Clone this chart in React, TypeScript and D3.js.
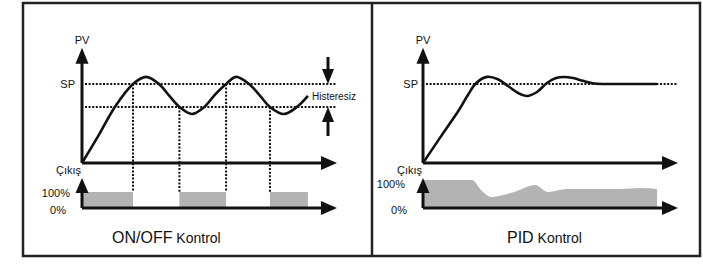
import React from 'react';
import * as d3 from 'd3';

// ON/OFF panel: process value over time (t in % of time axis, pv in % of set point)
const onoffT = [0, 6.5, 12.9, 20, 25.1, 30.2, 34, 38.2, 43.1, 48, 52, 56.5, 60.4, 65.5, 69.6, 73.7, 79.2, 84.3, 88.6];
const onoffPV = [0, 35, 71, 100, 109, 100, 86, 71, 62, 71, 86, 100, 109, 100, 86, 71, 62, 71, 85];
// relay switching instants and output state (100% on / 0% off)
const onoffSwitchT = [0, 20, 38.2, 56.5, 73.7, 88.6];
const onoffSwitchOut = [100, 0, 100, 0, 100, 0];
const onoffSwitchFrom = [null, 100, 71, 100, 71, null];

// PID panel
const pidT = [0, 7.1, 14.1, 17.6, 20.8, 25.1, 29.4, 33.3, 37.3, 40.8, 44.7, 48.6, 52.2, 55.3, 58.8, 62.7, 66.5, 70.5, 76, 91.8];
const pidPV = [0, 34, 67, 86, 101, 109, 106, 97.5, 88.6, 84.8, 89.9, 101.3, 107.6, 108.9, 107.6, 104, 101, 100, 100, 100];
const pidOutT = [0, 19.2, 23.1, 27.1, 31.4, 36.9, 43.9, 49, 56.5, 77.3, 85.1, 91.8];
const pidOut = [100, 100, 61, 39, 46, 61, 82, 57, 68, 68, 71, 68];

const SP = 100;
const HYST_LOW = 71;

const FONT = '"Liberation Sans", Arial, Helvetica, sans-serif';
const INK = '#111';

const panels = [
  { ox: 82, title: 'ON/OFF', out100: 192, lbl100dx: 12, lbl100y: 197 },
  { ox: 423, title: 'PID', out100: 180, lbl100dx: 18, lbl100y: 188 },
];

const oy = 163;
const outY = 208;

const arrowUp = (x: number, tip: number, w = 13, h = 16) =>
  `M${x},${tip}L${x - w / 2},${tip + h}L${x + w / 2},${tip + h}Z`;
const arrowDown = (x: number, tip: number, w = 13, h = 16) =>
  `M${x},${tip}L${x - w / 2},${tip - h}L${x + w / 2},${tip - h}Z`;
const arrowRight = (tip: number, y: number, w = 14, h = 16) =>
  `M${tip},${y}L${tip - h},${y - w / 2}L${tip - h},${y + w / 2}Z`;

const Panel = ({ p, idx }: { p: typeof panels[0]; idx: number }) => {
  const x = d3.scaleLinear().domain([0, 100]).range([p.ox, p.ox + 255]);
  const y = d3.scaleLinear().domain([0, 146]).range([oy, oy - 146 * 0.79]);
  const yo = d3.scaleLinear().domain([0, 100]).range([outY, p.out100]);
  const xTip = x(100);
  const yTip = y(146);

  const line = d3.line<[number, number]>()
    .x(d => x(d[0]))
    .y(d => y(d[1]))
    .curve(d3.curveCatmullRom.alpha(0.5));

  const pvPath = idx === 0
    ? line(onoffT.map((t, i) => [t, onoffPV[i]]))
    : line(pidT.map((t, i) => [t, pidPV[i]]));

  let outMarks: React.ReactNode;
  if (idx === 0) {
    const bars = [];
    for (let i = 0; i < onoffSwitchT.length - 1; i++) {
      if (onoffSwitchOut[i] === 100) {
        bars.push(
          <rect key={i} x={x(onoffSwitchT[i])} y={yo(100)}
            width={x(onoffSwitchT[i + 1]) - x(onoffSwitchT[i])}
            height={yo(0) - yo(100)} fill="#b3b3b3" />
        );
      }
    }
    const drops = onoffSwitchT.map((t, i) => onoffSwitchFrom[i] == null ? null : (
      <line key={'v' + i} x1={x(t)} x2={x(t)} y1={y(onoffSwitchFrom[i] as number)} y2={yo(100)}
        stroke={INK} strokeWidth={2} strokeDasharray="2,1.6" />
    ));
    outMarks = <g>{bars}{drops}</g>;
  } else {
    const area = d3.area<[number, number]>()
      .x(d => x(d[0]))
      .y0(yo(0))
      .y1(d => yo(d[1]))
      .curve(d3.curveMonotoneX);
    outMarks = <path d={area(pidOutT.map((t, i) => [t, pidOut[i]])) || ''} fill="#b3b3b3" />;
  }

  return (
    <g fontFamily={FONT} fill={INK}>
      {outMarks}
      {/* set point / hysteresis lines */}
      <line x1={p.ox + 3} x2={xTip} y1={y(SP)} y2={y(SP)} stroke={INK} strokeWidth={2} strokeDasharray="2,1.6" />
      {idx === 0 && (
        <line x1={p.ox + 3} x2={xTip} y1={y(HYST_LOW)} y2={y(HYST_LOW)} stroke={INK} strokeWidth={2} strokeDasharray="2,1.6" />
      )}
      <path d={pvPath || ''} fill="none" stroke={INK} strokeWidth={2.6} strokeLinejoin="round" />

      {/* PV axes */}
      <line x1={p.ox} x2={p.ox} y1={oy} y2={yTip + 10} stroke={INK} strokeWidth={3} />
      <path d={arrowUp(p.ox, yTip)} />
      <line x1={p.ox} x2={xTip - 10} y1={oy} y2={oy} stroke={INK} strokeWidth={3} />
      <path d={arrowRight(xTip, oy)} />

      {/* output axes */}
      <line x1={p.ox} x2={p.ox} y1={outY} y2={178 + 10} stroke={INK} strokeWidth={3} />
      <path d={arrowUp(p.ox, 178, 13, 15)} />
      <line x1={p.ox} x2={xTip - 10} y1={outY} y2={outY} stroke={INK} strokeWidth={3} />
      <path d={arrowRight(xTip, outY)} />

      <text x={p.ox} y={44} fontSize={11} textAnchor="middle">PV</text>
      <text x={p.ox - (idx === 0 ? 7 : 5)} y={y(SP) + 4} fontSize={11} textAnchor="end">SP</text>
      <text x={p.ox - 1} y={174} fontSize={11} textAnchor="end">Çıkış</text>
      <text x={p.ox - p.lbl100dx} y={p.lbl100y} fontSize={11} textAnchor="end">100%</text>
      <text x={p.ox - 16} y={214} fontSize={11} textAnchor="end">0%</text>

      <text x={idx === 0 ? 112 : 507} y={243}>
        <tspan fontSize={16}>{p.title}</tspan>
        <tspan fontSize={14}> Kontrol</tspan>
      </text>

      {idx === 0 && (
        <g>
          <line x1={328} x2={328} y1={57} y2={72} stroke={INK} strokeWidth={3} />
          <path d={arrowDown(328, y(SP), 12, 15)} />
          <line x1={328} x2={328} y1={y(HYST_LOW) + 12} y2={136} stroke={INK} strokeWidth={3} />
          <path d={arrowUp(328, y(HYST_LOW), 12, 15)} />
          <text x={312} y={100} fontSize={10}>Histeresiz</text>
        </g>
      )}
    </g>
  );
};

export default function App() {
  return (
    <div style={{ position: 'absolute', left: 0, top: 0 }}>
      <svg width={703} height={264} style={{ display: 'block', background: '#fff' }}>
        <rect x={23} y={3} width={677} height={253} fill="none" stroke="#222" strokeWidth={2.5} />
        <line x1={372} x2={372} y1={3} y2={256} stroke="#222" strokeWidth={2.5} />
        {panels.map((p, i) => <Panel key={i} p={p} idx={i} />)}
      </svg>
    </div>
  );
}
